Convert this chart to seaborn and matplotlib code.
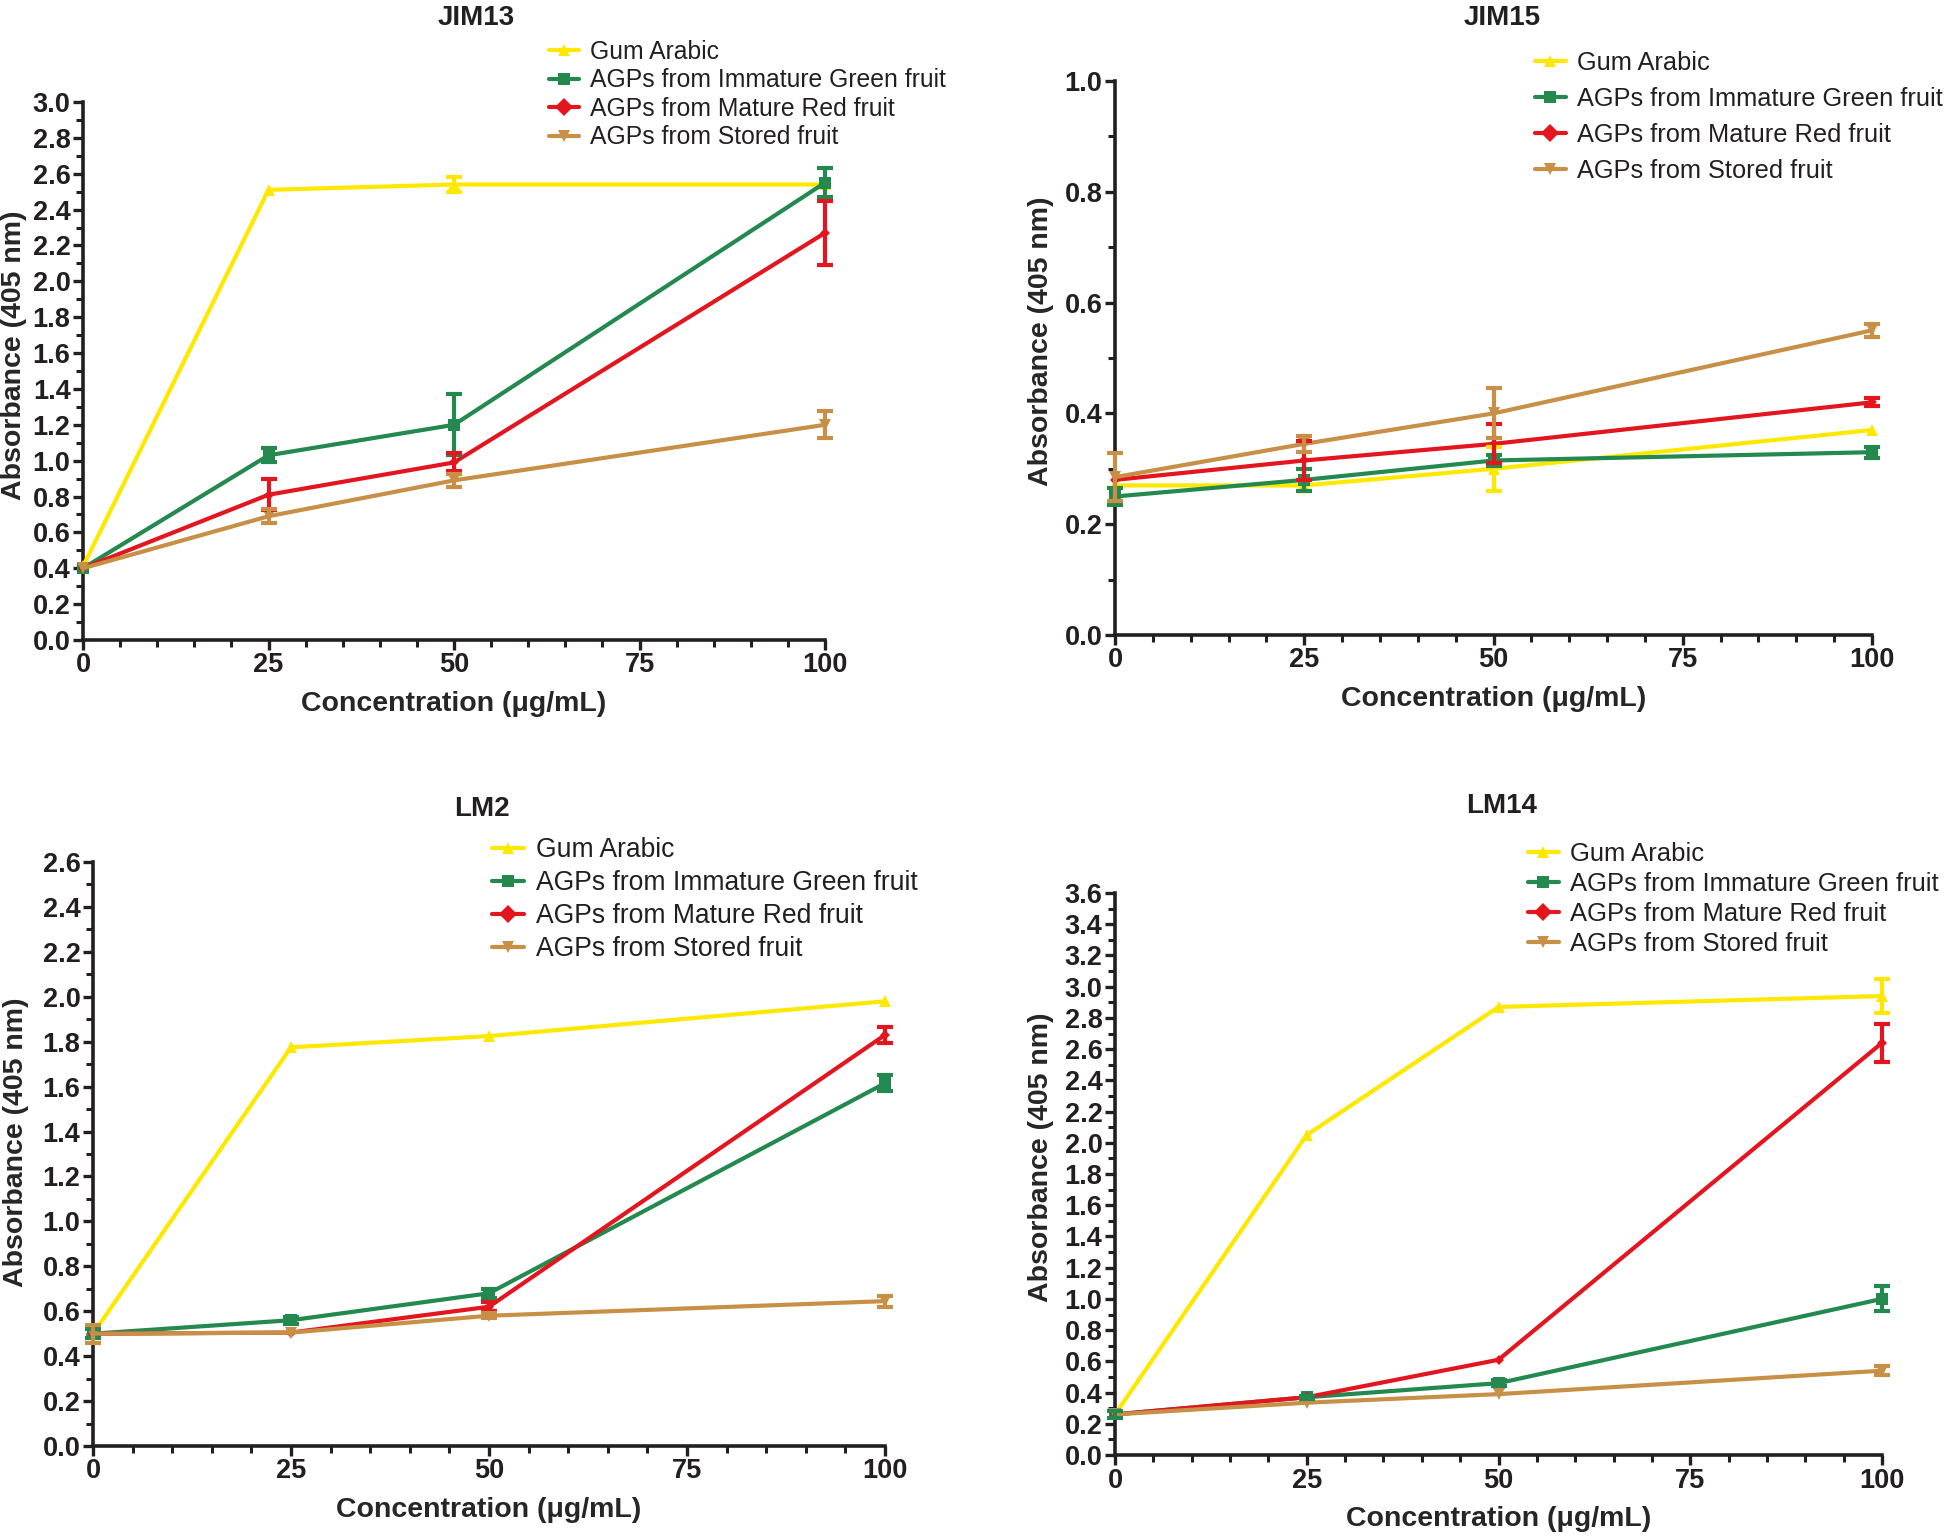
import matplotlib
matplotlib.use("Agg")
import matplotlib.pyplot as plt
from matplotlib.ticker import MultipleLocator
import pandas as pd
import seaborn as sns

# concentrations (ug/mL)
conc = [0, 25, 50, 100]
names = ["Gum Arabic", "AGPs from Immature Green fruit",
         "AGPs from Mature Red fruit", "AGPs from Stored fruit"]

# JIM13
jim13_gum = [0.41, 2.51, 2.54, 2.54]
jim13_gum_err = [0, 0, 0.04, 0]
jim13_green = [0.40, 1.03, 1.20, 2.55]
jim13_green_err = [0, 0.04, 0.17, 0.08]
jim13_red = [0.40, 0.81, 0.99, 2.27]
jim13_red_err = [0, 0.085, 0.05, 0.18]
jim13_stored = [0.40, 0.69, 0.89, 1.20]
jim13_stored_err = [0, 0.04, 0.035, 0.075]

# JIM15
jim15_gum = [0.27, 0.27, 0.30, 0.37]
jim15_gum_err = [0, 0.01, 0.04, 0]
jim15_green = [0.25, 0.28, 0.315, 0.33]
jim15_green_err = [0.015, 0.02, 0.01, 0.01]
jim15_red = [0.28, 0.315, 0.345, 0.42]
jim15_red_err = [0, 0.035, 0.035, 0.007]
jim15_stored = [0.285, 0.345, 0.40, 0.55]
jim15_stored_err = [0.043, 0.015, 0.045, 0.012]

# LM2
lm2_gum = [0.50, 1.775, 1.825, 1.98]
lm2_gum_err = [0, 0, 0, 0]
lm2_green = [0.50, 0.56, 0.68, 1.615]
lm2_green_err = [0.02, 0.015, 0.02, 0.035]
lm2_red = [0.50, 0.505, 0.62, 1.83]
lm2_red_err = [0, 0, 0.02, 0.035]
lm2_stored = [0.50, 0.505, 0.58, 0.645]
lm2_stored_err = [0.04, 0, 0.01, 0.025]

# LM14
lm14_gum = [0.26, 2.05, 2.87, 2.94]
lm14_gum_err = [0, 0, 0, 0.11]
lm14_green = [0.26, 0.37, 0.46, 1.00]
lm14_green_err = [0.02, 0.01, 0.02, 0.08]
lm14_red = [0.26, 0.37, 0.61, 2.64]
lm14_red_err = [0, 0, 0, 0.12]
lm14_stored = [0.26, 0.335, 0.39, 0.54]
lm14_stored_err = [0, 0, 0, 0.03]

colors = ["#FFE800", "#23894F", "#E3151F", "#C89046"]
markers = ["^", "s", "D", "v"]
msizes = [8, 9, 5, 8]

sns.set_style("ticks")
plt.rcParams["font.family"] = ["Liberation Sans", "DejaVu Sans"]
plt.rcParams["axes.edgecolor"] = "#231F20"
plt.rcParams["xtick.color"] = "#231F20"
plt.rcParams["ytick.color"] = "#231F20"
plt.rcParams["text.color"] = "#231F20"

fig = plt.figure(figsize=(19.44, 15.37), dpi=100)
W, H = 1944, 1537


def add_axes(x0, x1, y_bot, y_top):
    return fig.add_axes([x0 / W, 1 - y_bot / H, (x1 - x0) / W, (y_bot - y_top) / H])


panels = [
    dict(title="JIM13", box=(83, 825, 640, 102), ymax=3.0,
         vals=[jim13_gum, jim13_green, jim13_red, jim13_stored],
         errs=[jim13_gum_err, jim13_green_err, jim13_red_err, jim13_stored_err],
         leg=(549, 40), legfs=17.8, legsp=0.18, tx=476, ty=18, ylab=(-0.076, 0.53)),
    dict(title="JIM15", box=(1115, 1872, 635, 81), ymax=1.0,
         vals=[jim15_gum, jim15_green, jim15_red, jim15_stored],
         errs=[jim15_gum_err, jim15_green_err, jim15_red_err, jim15_stored_err],
         leg=(1535, 51), legfs=18.3, legsp=0.47, tx=1502, ty=18, ylab=(-0.081, 0.53)),
    dict(title="LM2", box=(93, 885, 1446, 862), ymax=2.6,
         vals=[lm2_gum, lm2_green, lm2_red, lm2_stored],
         errs=[lm2_gum_err, lm2_green_err, lm2_red_err, lm2_stored_err],
         leg=(492, 837), legfs=19.1, legsp=0.27, tx=482, ty=809, ylab=(-0.081, 0.52)),
    dict(title="LM14", box=(1115, 1882, 1455, 893), ymax=3.6,
         vals=[lm14_gum, lm14_green, lm14_red, lm14_stored],
         errs=[lm14_gum_err, lm14_green_err, lm14_red_err, lm14_stored_err],
         leg=(1528, 842), legfs=18.45, legsp=0.24, tx=1502, ty=806, ylab=(-0.08, 0.53)),
]

for p in panels:
    x0, x1, yb, yt = p["box"]
    ax = add_axes(x0, x1, yb, yt)
    rows = []
    for name, vals in zip(names, p["vals"]):
        for c, v in zip(conc, vals):
            rows.append({"conc": c, "abs": v, "series": name})
    df = pd.DataFrame(rows)
    sns.lineplot(data=df, x="conc", y="abs", hue="series", style="series",
                 hue_order=names, style_order=names,
                 palette=dict(zip(names, colors)), markers=dict(zip(names, markers)),
                 dashes=False, linewidth=3, markersize=9, markeredgewidth=0,
                 ax=ax, clip_on=False, zorder=3)
    for line, ms in zip(ax.lines, msizes):
        line.set_markersize(ms)
    for vals, errs, col in zip(p["vals"], p["errs"], colors):
        xs = [c for c, e in zip(conc, errs) if e > 0]
        ys = [v for v, e in zip(vals, errs) if e > 0]
        es = [e for e in errs if e > 0]
        if xs:
            ax.errorbar(xs, ys, yerr=es, fmt="none", ecolor=col, elinewidth=3,
                        capsize=6, capthick=3, clip_on=False, zorder=3)

    ax.set_xlim(0, 100)
    ax.set_ylim(0, p["ymax"])
    ax.set_xticks([0, 25, 50, 75, 100])
    ax.xaxis.set_minor_locator(MultipleLocator(5))
    ax.yaxis.set_major_locator(MultipleLocator(0.2))
    ax.yaxis.set_minor_locator(MultipleLocator(0.1))
    ax.yaxis.set_major_formatter(matplotlib.ticker.FormatStrFormatter("%.1f"))
    sns.despine(ax=ax)
    for s in ("left", "bottom"):
        ax.spines[s].set_linewidth(2.6)
    ax.tick_params(which="major", length=7, width=2.4, labelsize=19.5, pad=2)
    ax.tick_params(which="minor", length=5, width=2.2)
    for lab in ax.get_xticklabels() + ax.get_yticklabels():
        lab.set_fontweight("bold")
    ax.set_xlabel("Concentration (\u03bcg/mL)", fontsize=20.5, fontweight="bold", labelpad=9)
    ax.set_ylabel("Absorbance (405 nm)", fontsize=20.5, fontweight="bold")
    ax.yaxis.set_label_coords(*p["ylab"])
    fig.text(p["tx"] / W, 1 - p["ty"] / H, p["title"], fontsize=20, fontweight="bold",
             ha="center", va="center")

    handles, labels = ax.get_legend_handles_labels()
    lx, ly = p["leg"]
    ax.legend(handles, labels, loc="upper left", bbox_to_anchor=(lx / W, 1 - ly / H),
              bbox_transform=fig.transFigure, frameon=False, fontsize=p["legfs"],
              borderpad=0, borderaxespad=0, handlelength=1.2, handletextpad=0.45,
              labelspacing=p["legsp"])

fig.savefig("out.png", dpi=100, facecolor="white")
